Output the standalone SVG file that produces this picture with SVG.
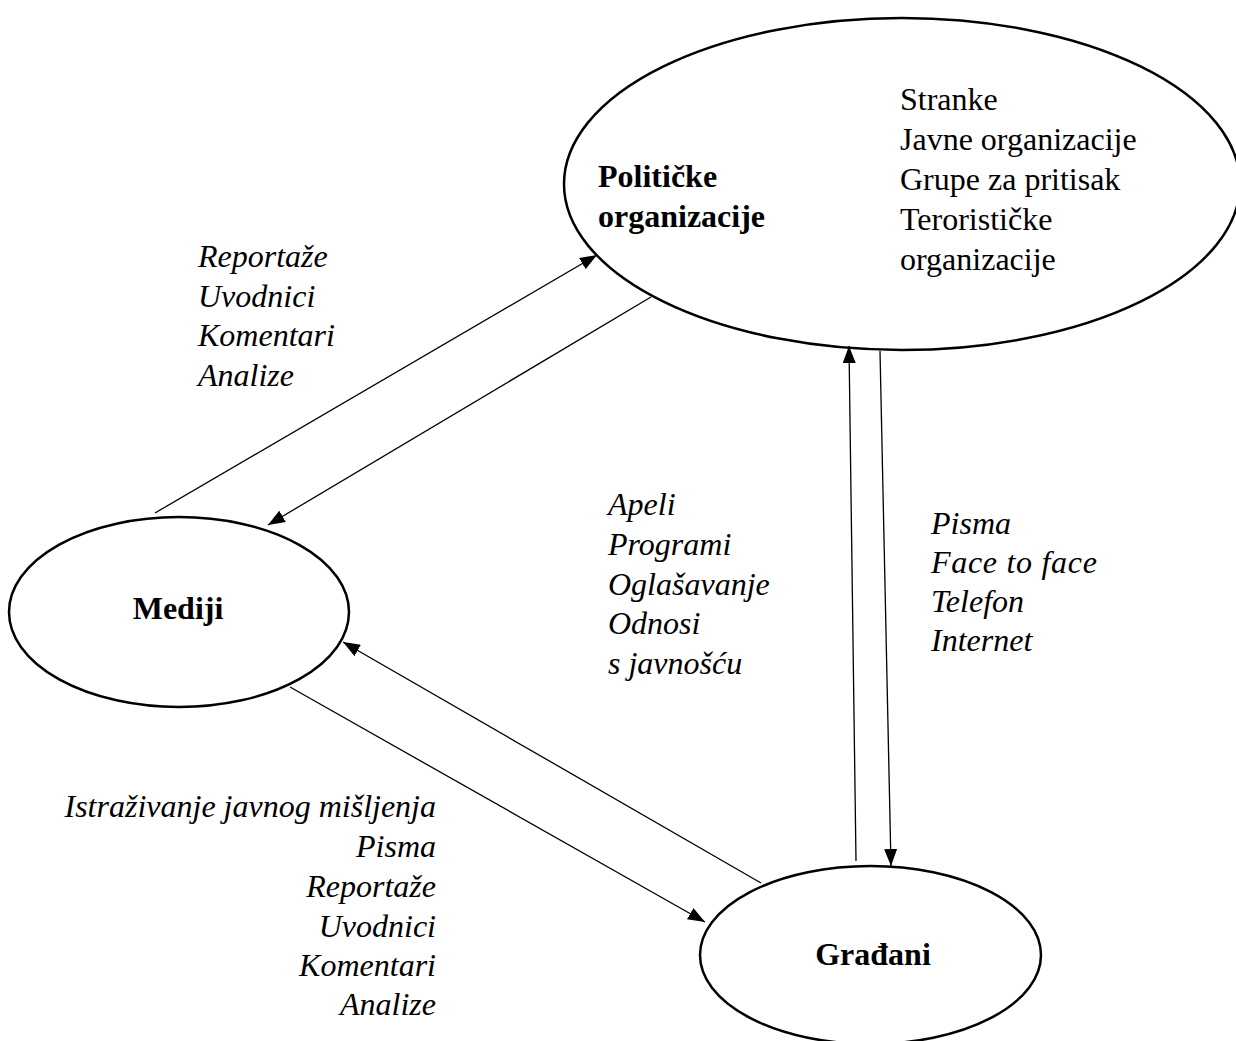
<svg xmlns="http://www.w3.org/2000/svg" width="1236" height="1041" viewBox="0 0 1236 1041">
<style>
.bg{fill:#ffffff}
.node{fill:#ffffff;stroke:#000000;stroke-width:2.5}
.conn{stroke:#000000;stroke-width:1.3;fill:none;marker-end:url(#arrow)}
text{font-family:"Liberation Serif","Times New Roman",serif;font-size:32px;fill:#000000}
.b{font-weight:bold}
.i{font-style:italic}
</style>
<defs>
<marker id="arrow" markerUnits="userSpaceOnUse" markerWidth="17" markerHeight="13" refX="17" refY="6.5" orient="auto">
<path d="M0,0 L17,6.5 L0,13 z" fill="#000000"/>
</marker>
</defs>
<rect class="bg" x="0" y="0" width="1236" height="1041"/>

<g id="politicke">
<ellipse class="node" cx="902" cy="184" rx="338" ry="166"/>
<text class="b" x="598" y="187">Političke</text>
<text class="b" x="598" y="227">organizacije</text>
<text x="900" y="110">Stranke</text>
<text x="900" y="150">Javne organizacije</text>
<text x="900" y="190">Grupe za pritisak</text>
<text x="900" y="230">Terorističke</text>
<text x="900" y="270">organizacije</text>
</g>

<g id="mediji">
<ellipse class="node" cx="179" cy="612" rx="170" ry="95"/>
<text class="b" x="178" y="619" text-anchor="middle">Mediji</text>
</g>

<g id="gradjani">
<ellipse class="node" cx="870.5" cy="955" rx="170.5" ry="89"/>
<text class="b" x="873" y="965" text-anchor="middle">Građani</text>
</g>

<g id="connectors">
<line class="conn" x1="155" y1="513" x2="597" y2="255"/>
<line class="conn" x1="651" y1="297" x2="268" y2="525"/>
<line class="conn" x1="856" y1="861" x2="849" y2="346"/>
<line class="conn" x1="880" y1="351" x2="891" y2="866"/>
<line class="conn" x1="290" y1="687" x2="705" y2="922"/>
<line class="conn" x1="761" y1="883" x2="343" y2="642"/>
</g>

<g id="labels">
<text class="i" x="198" y="267">Reportaže</text>
<text class="i" x="198" y="307">Uvodnici</text>
<text class="i" x="198" y="346">Komentari</text>
<text class="i" x="198" y="386">Analize</text>

<text class="i" x="608" y="515">Apeli</text>
<text class="i" x="608" y="555">Programi</text>
<text class="i" x="608" y="595">Oglašavanje</text>
<text class="i" x="608" y="634">Odnosi</text>
<text class="i" x="608" y="674">s javnošću</text>

<text class="i" x="931" y="534">Pisma</text>
<text class="i" x="931" y="573" letter-spacing="0.7">Face to face</text>
<text class="i" x="931" y="612">Telefon</text>
<text class="i" x="931" y="651">Internet</text>

<text class="i" x="436" y="817" text-anchor="end">Istraživanje javnog mišljenja</text>
<text class="i" x="436" y="857" text-anchor="end">Pisma</text>
<text class="i" x="436" y="897" text-anchor="end">Reportaže</text>
<text class="i" x="436" y="937" text-anchor="end">Uvodnici</text>
<text class="i" x="436" y="976" text-anchor="end">Komentari</text>
<text class="i" x="436" y="1015" text-anchor="end">Analize</text>
</g>
</svg>
